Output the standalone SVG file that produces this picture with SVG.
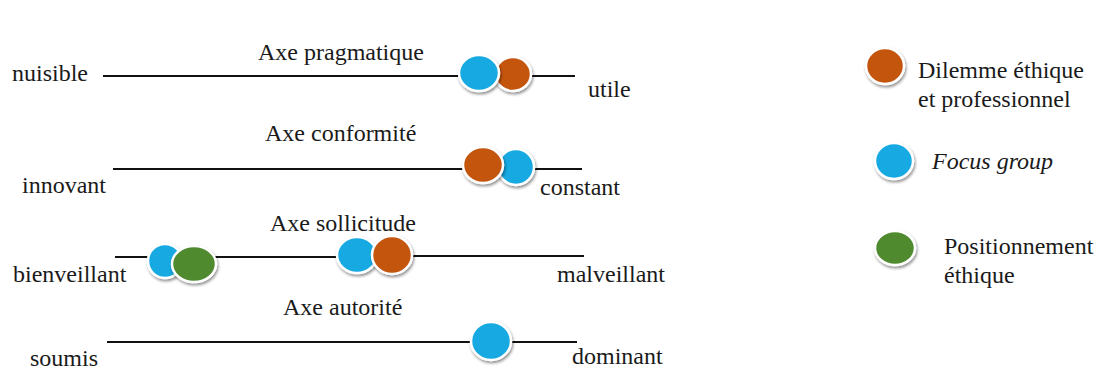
<svg xmlns="http://www.w3.org/2000/svg" width="1103" height="372" viewBox="0 0 1103 372">
<defs>
<filter id="sh" x="-40%" y="-40%" width="180%" height="180%">
<feGaussianBlur in="SourceAlpha" stdDeviation="1.5"/>
<feOffset dx="1" dy="2" result="b"/>
<feComponentTransfer><feFuncA type="linear" slope="0.45"/></feComponentTransfer>
<feMerge><feMergeNode/><feMergeNode in="SourceGraphic"/></feMerge>
</filter>
</defs>
<style>
text{font-family:Liberation Serif, DejaVu Serif, serif;font-size:24px;fill:#1a1a1a}
.it{font-style:italic}
.ax{stroke:#111;stroke-width:2;fill:none}
.b{fill:#17A9E2}
.o{fill:#C4550F}
.g{fill:#4F8A2F}
.dot{stroke:#fff;stroke-width:2.5;filter:url(#sh)}
</style>
<rect width="1103" height="372" fill="#fff"/>
<g id="connectors">
<line class="ax" x1="103" y1="76" x2="460" y2="76"/>
<line class="ax" x1="530" y1="76" x2="575" y2="76"/>
<line class="ax" x1="113" y1="169" x2="465" y2="169"/>
<line class="ax" x1="533" y1="169" x2="582" y2="169"/>
<line class="ax" x1="115" y1="257" x2="150" y2="257"/>
<line class="ax" x1="215" y1="257" x2="340" y2="257"/>
<line class="ax" x1="410" y1="256" x2="584" y2="256"/>
<line class="ax" x1="107" y1="342" x2="472" y2="342"/>
<line class="ax" x1="510" y1="342" x2="577" y2="342"/>
</g>
<g id="axe-pragmatique">
<text x="12" y="81">nuisible</text>
<text x="258" y="60">Axe pragmatique</text>
<text x="588" y="97">utile</text>
<ellipse class="dot o" cx="513" cy="74" rx="18" ry="17"/>
<ellipse class="dot b" cx="479" cy="73" rx="20" ry="18"/>
</g>
<g id="axe-conformite">
<text x="22" y="193">innovant</text>
<text x="265" y="141">Axe conformité</text>
<text x="540" y="195">constant</text>
<ellipse class="dot b" cx="516" cy="167" rx="18" ry="18"/>
<ellipse class="dot o" cx="483" cy="165" rx="20" ry="18"/>
</g>
<g id="axe-sollicitude">
<text x="13" y="282">bienveillant</text>
<text x="270" y="231">Axe sollicitude</text>
<text x="557" y="282">malveillant</text>
<ellipse class="dot b" cx="165" cy="261" rx="17" ry="17"/>
<ellipse class="dot g" cx="194" cy="264" rx="22" ry="18"/>
<ellipse class="dot b" cx="357" cy="255" rx="20" ry="18"/>
<ellipse class="dot o" cx="392" cy="255" rx="20" ry="19"/>
</g>
<g id="axe-autorite">
<text x="30" y="366">soumis</text>
<text x="283" y="315">Axe autorité</text>
<text x="572" y="364">dominant</text>
<ellipse class="dot b" cx="491" cy="341" rx="20" ry="19"/>
</g>
<g id="legende-dilemme">
<ellipse class="dot o" cx="885" cy="66" rx="19" ry="18"/>
<text x="918" y="78">Dilemme éthique</text>
<text x="918" y="107">et professionnel</text>
</g>
<g id="legende-focus">
<ellipse class="dot b" cx="894" cy="161" rx="19" ry="18"/>
<text class="it" x="932" y="169">Focus group</text>
</g>
<g id="legende-positionnement">
<ellipse class="dot g" cx="895" cy="248" rx="20" ry="17"/>
<text x="944" y="254">Positionnement</text>
<text x="944" y="283">éthique</text>
</g>
</svg>
